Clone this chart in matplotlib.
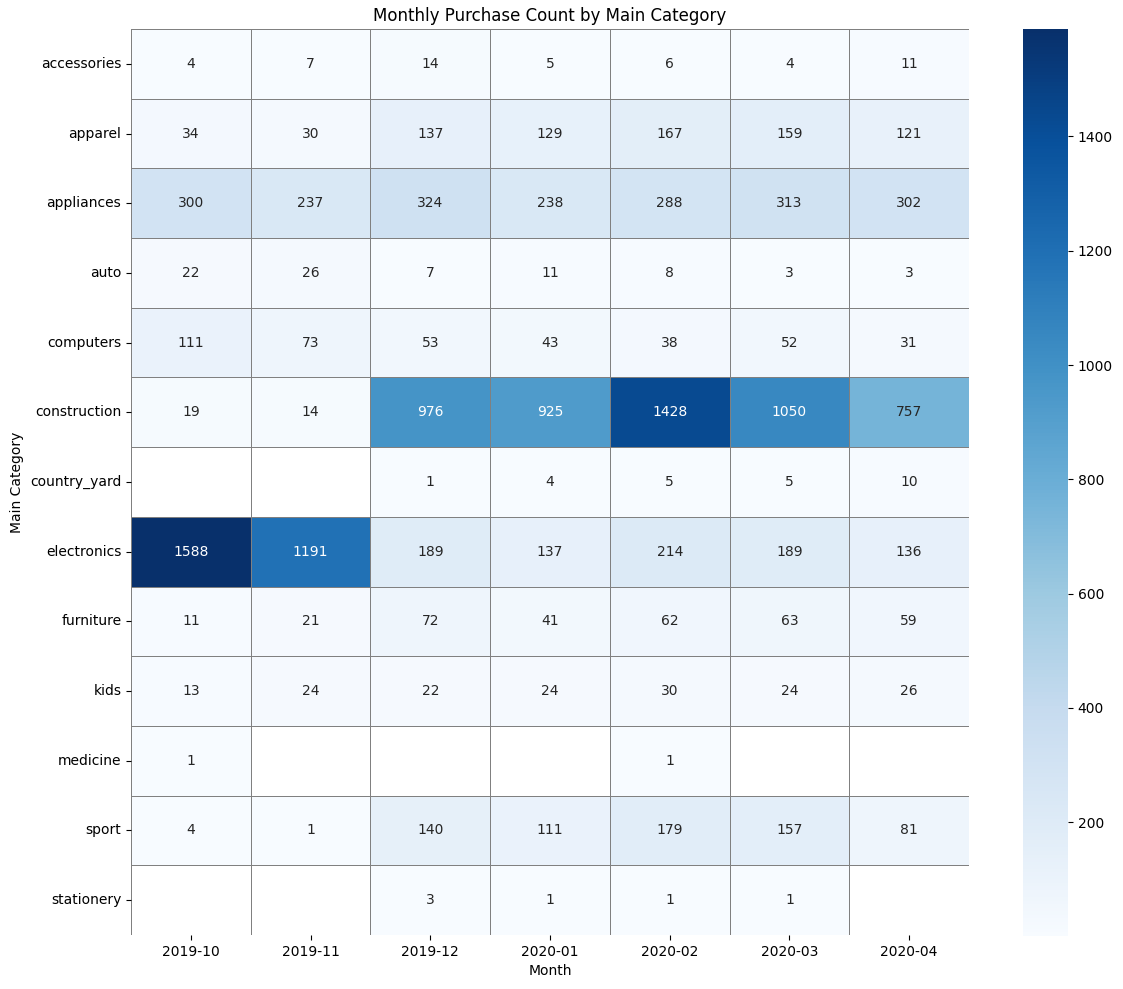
import numpy as np
import pandas as pd
import matplotlib
matplotlib.use("Agg")
import matplotlib.pyplot as plt
import seaborn as sns

months = ["2019-10", "2019-11", "2019-12", "2020-01", "2020-02", "2020-03", "2020-04"]
categories = ["accessories", "apparel", "appliances", "auto", "computers", "construction",
              "country_yard", "electronics", "furniture", "kids", "medicine", "sport", "stationery"]
nan = np.nan
accessories = [4, 7, 14, 5, 6, 4, 11]
apparel = [34, 30, 137, 129, 167, 159, 121]
appliances = [300, 237, 324, 238, 288, 313, 302]
auto = [22, 26, 7, 11, 8, 3, 3]
computers = [111, 73, 53, 43, 38, 52, 31]
construction = [19, 14, 976, 925, 1428, 1050, 757]
country_yard = [nan, nan, 1, 4, 5, 5, 10]
electronics = [1588, 1191, 189, 137, 214, 189, 136]
furniture = [11, 21, 72, 41, 62, 63, 59]
kids = [13, 24, 22, 24, 30, 24, 26]
medicine = [1, nan, nan, nan, 1, nan, nan]
sport = [4, 1, 140, 111, 179, 157, 81]
stationery = [nan, nan, 3, 1, 1, 1, nan]

rows = [accessories, apparel, appliances, auto, computers, construction, country_yard,
        electronics, furniture, kids, medicine, sport, stationery]
df = pd.DataFrame(rows, index=categories, columns=months, dtype=float)

W, H = 1123, 989
fig = plt.figure(figsize=(W / 100, H / 100), dpi=100)
ax = fig.add_axes([131 / W, 1 - 935 / H, (969 - 131) / W, (935 - 29) / H])
cax = fig.add_axes([1023 / W, 1 - 936 / H, (1068 - 1023) / W, (936 - 29) / H])
sns.heatmap(df, annot=True, fmt=".0f", cmap="Blues", linewidths=0.5, linecolor="gray",
            ax=ax, cbar_ax=cax)
ax.set_title("Monthly Purchase Count by Main Category")
ax.set_xlabel("Month")
ax.set_ylabel("Main Category")
plt.setp(ax.get_xticklabels(), rotation=0)
plt.setp(ax.get_yticklabels(), rotation=0)
fig.savefig("out.png", dpi=100)
